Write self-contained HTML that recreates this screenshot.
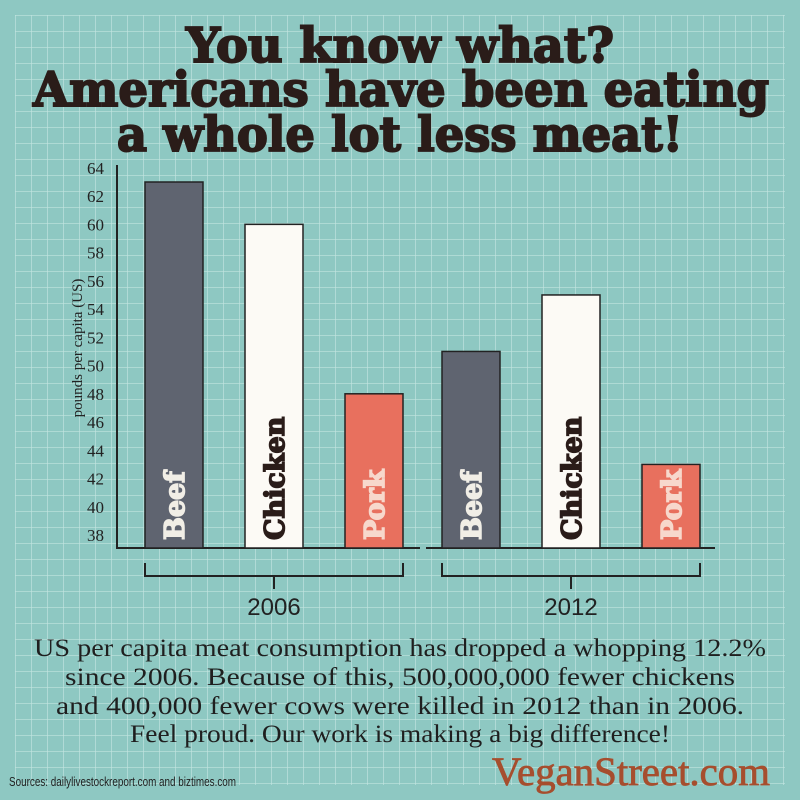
<!DOCTYPE html>
<html><head><meta charset="utf-8"><style>
html,body{margin:0;padding:0;background:#8ec8c2;}
svg{display:block}
</style></head><body>
<svg id="chart" width="800" height="800" viewBox="0 0 800 800" xmlns="http://www.w3.org/2000/svg">
<defs>
<pattern id="grid" x="15" y="15" width="16" height="16" patternUnits="userSpaceOnUse">
<path d="M0 0 H16 M0 0 V16" stroke="#c2e5e0" stroke-width="1.3" fill="none"/>
</pattern>
</defs>
<rect width="800" height="800" fill="#8ec8c2"/>
<rect x="15" y="15" width="770" height="770" fill="url(#grid)"/>
<g font-family="'DejaVu Serif','Liberation Serif',serif" font-weight="bold" fill="#2a1c19" stroke="#2a1c19" stroke-width="2" text-anchor="middle">
<text x="400" y="62" font-size="48" textLength="428" lengthAdjust="spacingAndGlyphs">You know what?</text>
<text x="401" y="106" font-size="48" textLength="736" lengthAdjust="spacingAndGlyphs">Americans have been eating</text>
<text x="400" y="151" font-size="48" textLength="566" lengthAdjust="spacingAndGlyphs">a whole lot less meat!</text>
</g>
<g id="plot"></g>
<g font-family="'Liberation Serif',serif" fill="#1f1f1f" text-anchor="middle" font-size="25">
<text x="400" y="656" textLength="732" lengthAdjust="spacingAndGlyphs">US per capita meat consumption has dropped a whopping 12.2%</text>
<text x="400" y="685" textLength="670" lengthAdjust="spacingAndGlyphs">since 2006. Because of this, 500,000,000 fewer chickens</text>
<text x="400" y="714" textLength="688" lengthAdjust="spacingAndGlyphs">and 400,000 fewer cows were killed in 2012 than in 2006.</text>
<text x="400" y="742" textLength="540" lengthAdjust="spacingAndGlyphs">Feel proud. Our work is making a big difference!</text>
</g>
<text x="9" y="786" font-family="'Liberation Sans Narrow','Liberation Sans',sans-serif" font-size="13" fill="#222" textLength="227" lengthAdjust="spacingAndGlyphs">Sources: dailylivestockreport.com and biztimes.com</text>
<text x="492" y="785" font-family="'Liberation Serif',serif" font-size="40" fill="#a64e2e" stroke="#a64e2e" stroke-width="0.8" textLength="278" lengthAdjust="spacingAndGlyphs">VeganStreet.com</text>
</svg>
<script>
const groups = ["2006", "2012"];
const meats = ["Beef", "Chicken", "Pork"];
const values2006 = [63, 60, 48];
const values2012 = [51, 55, 43];
const yTicks = [38, 40, 42, 44, 46, 48, 50, 52, 54, 56, 58, 60, 62, 64];

const NS = "http://www.w3.org/2000/svg";
const plot = document.getElementById('plot');
const y = v => 535 - (v - 38) * 14.12;
const base = 548;
const barX = (g, i) => 145 + g * 297 + i * 100;
const barW = 58;
const fills = {Beef: "#5f6470", Chicken: "#fcfaf5", Pork: "#e8705e"};
const labelFills = {Beef: "#f1eee6", Chicken: "#2a1c19", Pork: "#f7d8cc"};
function mk(tag, attrs) { const e = document.createElementNS(NS, tag); for (const k in attrs) e.setAttribute(k, attrs[k]); plot.appendChild(e); return e; }

yTicks.forEach(t => {
  const e = mk('text', {x: 104, y: y(t) + 6, 'text-anchor': 'end', 'font-family': "'Liberation Serif',serif", 'font-size': 17, fill: '#222'});
  
  
  e.textContent = t;
});
const yt = mk('text', {x: 0, y: 0, transform: 'translate(82,348) rotate(-90)', 'text-anchor': 'middle', 'font-family': "'Liberation Serif',serif", 'font-size': 15, fill: '#222'});


yt.textContent = 'pounds per capita (US)';

const ax = mk('line', {x1: 117, y1: 165, x2: 117, y2: base + 1, stroke: '#222', 'stroke-width': 2});



[values2006, values2012].forEach((vals, g) => {
  const bl = mk('line', {x1: g === 0 ? 116 : 426, y1: base, x2: g === 0 ? 420 : 715, y2: base, stroke: '#222', 'stroke-width': 2});
  
  
  vals.forEach((v, i) => {
    const m = meats[i];
    const x = barX(g, i);
    const r = mk('rect', {x: x, y: y(v), width: barW, height: base - y(v), fill: fills[m], stroke: '#222', 'stroke-width': 1.5});
    
    
    const t = mk('text', {x: 0, y: 0, transform: `translate(${x + barW / 2 + 10},540) rotate(-90)`, 'font-family': "'DejaVu Serif',serif", 'font-weight': 'bold', 'font-size': 27, fill: labelFills[m], stroke: labelFills[m], 'stroke-width': 1.5});
    
    
    t.textContent = m;
  });
  const x0 = barX(g, 0), x1 = barX(g, 2) + barW, by = 576, cx = (x0 + x1) / 2;
  const br = mk('path', {d: `M${x0} ${by - 13} V${by} H${x1} V${by - 13} M${cx} ${by} V${by + 13}`, fill: 'none', stroke: '#222', 'stroke-width': 2});
  
  
  const gl = mk('text', {x: cx, y: 615, 'text-anchor': 'middle', 'font-family': "'Liberation Sans',sans-serif", 'font-size': 24, fill: '#222'});
  
  
  gl.textContent = groups[g];
});
</script>
</body></html>
